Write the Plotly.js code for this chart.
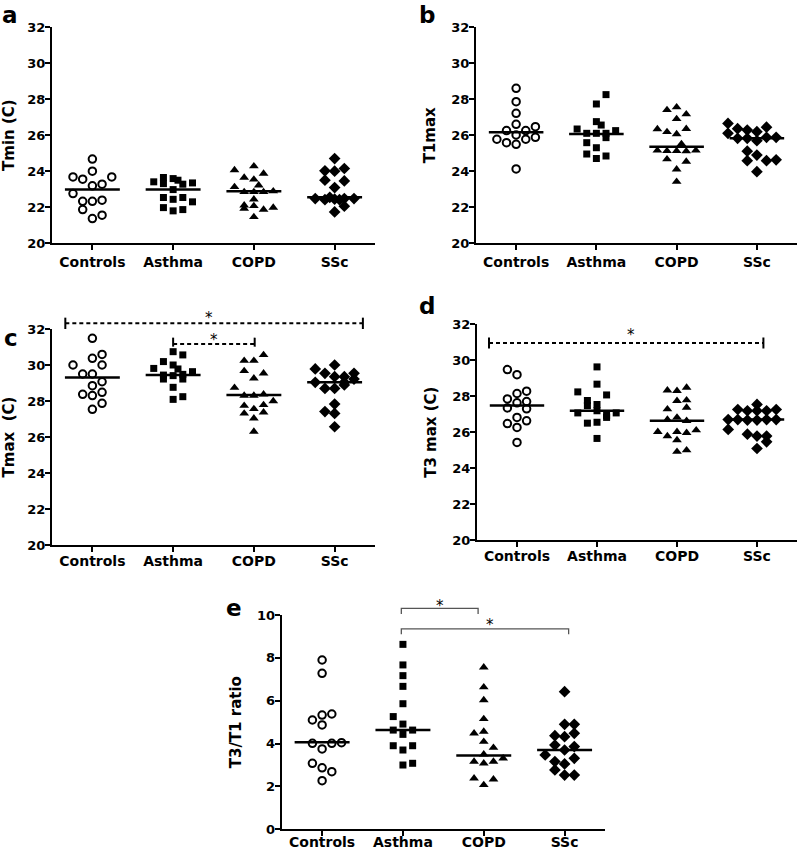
<!DOCTYPE html>
<html><head><meta charset="utf-8">
<script src="https://cdn.plot.ly/plotly-3.0.1.min.js"></script>
<style>html,body{margin:0;padding:0;background:#fff}#chart{width:800px;height:851px}</style>
</head><body><div id="chart"></div>
<script>
// ---------------- DATA ----------------
const categories = ['Controls', 'Asthma', 'COPD', 'SSc'];
const panelLetters = ['a', 'b', 'c', 'd', 'e'];
const yTitles = ['Tmin (C)', 'T1max', 'Tmax  (C)', 'T3 max (C)', 'T3/T1 ratio'];

// Panel a: Tmin (C)
const a_controls = [24.67, 24.0, 23.68, 23.56, 23.68, 23.19, 23.28, 22.76, 22.33, 22.33, 22.39, 21.87, 21.37, 21.56];
const a_asthma   = [23.41, 23.65, 23.31, 23.59, 23.5, 23.28, 23.35, 22.98, 22.54, 22.44, 22.54, 22.30, 21.98, 21.80, 21.87];
const a_copd     = [24.06, 24.28, 23.65, 23.87, 23.54, 23.13, 23.22, 22.85, 22.85, 22.85, 22.89, 22.44, 22.11, 21.93, 22.07, 21.87, 21.98, 21.46];
const a_ssc      = [24.7, 24.02, 24.0, 24.15, 23.5, 23.46, 23.09, 22.48, 22.42, 22.55, 22.45, 22.42, 22.48, 22.48, 22.06, 21.74];
const a_medians  = [22.98, 22.98, 22.89, 22.56];

// Panel b: T1max
const b_controls = [28.61, 27.87, 27.22, 26.61, 26.26, 26.26, 26.48, 26.02, 25.78, 25.59, 25.5, 25.78, 25.89, 24.13];
const b_asthma   = [28.26, 27.74, 26.76, 26.57, 26.35, 26.11, 26.11, 26.11, 26.26, 25.59, 25.87, 25.31, 24.96, 24.85, 24.71];
const b_copd     = [27.41, 27.56, 27.17, 26.91, 26.35, 26.19, 26.07, 26.36, 25.52, 25.16, 25.13, 25.13, 25.12, 25.16, 24.67, 24.54, 24.11, 23.42];
const b_ssc      = [26.66, 26.37, 26.29, 26.2, 26.45, 26.11, 25.83, 25.83, 25.7, 25.89, 25.89, 25.12, 24.9, 24.59, 24.59, 24.64, 23.98];
const b_medians  = [26.17, 26.07, 25.37, 25.83];

// Panel c: Tmax (C)
const c_controls = [31.48, 30.37, 30.59, 30.0, 30.0, 29.5, 29.5, 29.07, 28.85, 28.37, 28.3, 28.48, 27.87, 27.54];
const c_asthma   = [30.74, 30.56, 30.19, 30.0, 29.78, 29.81, 29.63, 29.44, 29.41, 29.48, 29.22, 29.22, 28.76, 28.09, 28.24];
const c_copd     = [30.56, 30.24, 30.24, 29.67, 29.54, 29.26, 28.74, 28.3, 28.3, 28.37, 28.0, 27.74, 27.56, 27.78, 27.31, 27.37, 27.04, 26.3];
const c_ssc      = [30.0, 29.78, 29.54, 29.35, 29.35, 29.54, 29.04, 29.22, 29.04, 28.7, 28.7, 28.89, 27.83, 27.41, 27.31, 26.57];
const c_medians  = [29.3, 29.44, 28.33, 29.04];

// Panel d: T3 max (C)
const d_controls = [29.48, 29.2, 28.15, 28.28, 27.7, 27.85, 27.63, 27.35, 27.3, 26.82, 26.63, 26.48, 26.26, 25.43];
const d_asthma   = [29.63, 28.67, 28.24, 28.07, 27.76, 27.48, 27.54, 27.07, 27.19, 26.93, 26.82, 27.07, 26.5, 26.55, 25.65];
const d_copd     = [28.33, 28.3, 28.48, 27.74, 27.78, 27.37, 27.28, 26.7, 26.82, 26.63, 26.02, 25.78, 26.02, 25.96, 26.11, 25.56, 24.91, 25.0];
const d_ssc      = [27.54, 27.26, 27.19, 27.19, 27.19, 27.26, 26.7, 26.7, 26.67, 26.67, 26.7, 26.7, 26.15, 25.89, 25.78, 25.78, 25.46, 25.09];
const d_medians  = [27.48, 27.19, 26.63, 26.7];

// Panel e: T3/T1 ratio
const e_controls = [7.9, 7.28, 5.1, 5.33, 5.38, 4.87, 4.01, 4.01, 4.04, 3.75, 3.08, 2.87, 2.69, 2.27];
const e_asthma   = [8.63, 7.67, 7.17, 6.67, 5.86, 5.26, 4.91, 4.63, 4.63, 4.43, 3.9, 3.9, 3.7, 3.0, 3.08];
const e_copd     = [7.56, 6.63, 6.03, 5.15, 4.48, 4.56, 4.09, 3.81, 3.5, 3.16, 3.08, 3.16, 3.31, 2.38, 2.33, 2.07];
const e_ssc      = [6.42, 4.9, 4.9, 4.37, 4.32, 4.48, 3.93, 3.86, 3.7, 3.47, 3.31, 3.16, 3.05, 2.77, 2.53, 2.53];
const e_medians  = [4.06, 4.63, 3.44, 3.7];

// ---------------- LAYOUT HELPERS (horizontal scatter columns, in column steps) ----------------
const a_dx = [
  [0, 0, -2, -1, 2, 0, 1, -2, -1, 0, 1, -1, 0, 1],
  [-2, -1, -1, 0, 0.5, 1, 2, 0, -1, 0, 1, 2, -1, 0, 1],
  [-2, 0, -1, 1, 0, -2, 0.5, -1, 0, 1, 2, 0, -1, -1, 0, 1, 2, 0],
  [0, -1, 0, 1, -1, 1, 0, -2, -1, -0.5, 0, 0.5, 1, 2, 1, 0]
];
const b_dx = [
  [0, 0, 0, 0, -1, 1, 2, 0, -2, -1, 0, 1, 2, 0],
  [1, 0, 0, 0.5, -2, -1, 0, 1, 2, -1, 1, 0, -1, 1, 0],
  [-1, 0, 1, 0, -2, -1, 0, 1, 0.5, -2, -1, 0, 1, 2, -1, 1, 0, 0],
  [-3, -2, -1, 0, 1, -3, -2, -1, 0, 1, 2, -1, 0, -1, 1, 2, 0]
];
const c_dx = [
  [0, 0, 1, -2, 1, -1, 0, 1, 0, -1, 0, 1, 1, 0],
  [0, 1, -1, 0, 0.5, -2, 2, -1, 0, 1, -1, 1, 0, 0, 1],
  [1, -1, 0, -1, 1, 0, -2, -1, 0, 1, 2, -1, 0, 1, -1, 1, 0, 0],
  [0, -2, -1, 0, 1, 2, -2, 2, 1, -1, 0, 1, 0, -1, 0, 0]
];
const d_dx = [
  [-1, 0, 0, 1, 1, -1, 0, -1, 1, 0, 1, -1, 0, 0],
  [0, 0, -2, 1, -1, -1, 0, -2, 0, 1, 1, 2, -1, 0, 0],
  [-1, 0, 1, 0, 1, 1, -1, -1, 0, 1, -2, -1, 0, 1, 2, 0, 0, 1],
  [0, -2, -1, 0, 1, 2, -3, -2, -1, 0, 1, 2, -3, -1, 0, 1, 1, 0]
];
const e_dx = [
  [0, 0, -1, 0, 1, 0, -1, 1, 2, 0, -1, 0, 1, 0],
  [0, 0, 0, 0, 0, -1, 0, -1, 1, 0, -1, 1, 0, 0, 1],
  [0, 0, 0, 0, -1, 0, 0, 1, 0, -1, 0, 1, 2, -1, 1, 0],
  [0, 0, 1, -1, 0, 1, -1, 1, 0, -2, 1, -1, 0, -1, 0, 1]
];

const panels = [
  {groups: [a_controls, a_asthma, a_copd, a_ssc], dx: a_dx, med: a_medians},
  {groups: [b_controls, b_asthma, b_copd, b_ssc], dx: b_dx, med: b_medians},
  {groups: [c_controls, c_asthma, c_copd, c_ssc], dx: c_dx, med: c_medians},
  {groups: [d_controls, d_asthma, d_copd, d_ssc], dx: d_dx, med: d_medians},
  {groups: [e_controls, e_asthma, e_copd, e_ssc], dx: e_dx, med: e_medians}
];

// ---------------- GEOMETRY (pixels) ----------------
const W = 800, H = 851;
const STEP = 0.12, HALF = 0.34;
const boxes = [
  {x0: 52,    x1: 375, yt: 27,    yb: 243.3, range: [20, 32], xstand: 0},
  {x0: 476,   x1: 797, yt: 27.3,  yb: 243.3, range: [20, 32], xstand: 0},
  {x0: 52,    x1: 375, yt: 329,   yb: 545,   range: [20, 32], xstand: -3},
  {x0: 477,   x1: 797, yt: 324.3, yb: 540,   range: [20, 32], xstand: -3},
  {x0: 281.7, x1: 605, yt: 615,   yb: 829.3, range: [0, 10],  xstand: -6}
];
const px = v => v / W, py = v => 1 - v / H;

const symbols = ['circle-open', 'square', 'triangle-up', 'diamond'];
const sizes = [7.5, 7, 8.5, 9];
const FONT = 'DejaVu Sans';

const traces = [];
const layout = {
  width: W, height: H, margin: {l: 0, r: 0, t: 0, b: 0},
  paper_bgcolor: '#fff', plot_bgcolor: 'rgba(0,0,0,0)', showlegend: false,
  font: {family: FONT, color: '#000'},
  annotations: [], shapes: []
};

panels.forEach((p, k) => {
  const s = k === 0 ? '' : String(k + 1);
  const b = boxes[k];
  p.groups.forEach((vals, g) => {
    traces.push({
      type: 'scatter', mode: 'markers',
      x: vals.map((v, i) => g + p.dx[g][i] * STEP), y: vals,
      xaxis: 'x' + s, yaxis: 'y' + s, cliponaxis: false, hoverinfo: 'skip',
      marker: {symbol: symbols[g], size: sizes[g], color: '#000',
               line: {color: '#000', width: g === 0 ? 2 : 0}}
    });
    traces.push({
      type: 'scatter', mode: 'lines', x: [g - HALF, g + HALF], y: [p.med[g], p.med[g]],
      xaxis: 'x' + s, yaxis: 'y' + s, hoverinfo: 'skip', line: {color: '#000', width: 2.5}
    });
  });
  layout['xaxis' + s] = {
    domain: [px(b.x0), px(b.x1)], anchor: 'y' + s, range: [-0.5, 3.5],
    tickvals: [0, 1, 2, 3], ticktext: categories,
    showline: true, linecolor: '#000', linewidth: 2, ticks: 'outside', ticklen: 5,
    tickwidth: 2, tickcolor: '#000', showgrid: false, zeroline: false, ticklabelstandoff: b.xstand,
    tickfont: {family: FONT, size: 14, weight: 'bold', color: '#000'}
  };
  layout['yaxis' + s] = {
    domain: [py(b.yb), py(b.yt)], anchor: 'x' + s, range: b.range, dtick: 2, tick0: 0,
    showline: true, linecolor: '#000', linewidth: 2, ticks: 'outside', ticklen: 5,
    tickwidth: 2, tickcolor: '#000', showgrid: false, zeroline: false, ticklabelstandoff: -3,
    tickfont: {family: FONT, size: 13, weight: 'bold', color: '#000'},
    title: {text: yTitles[k], font: {family: FONT, size: 15, weight: 'bold', color: '#000'}}
  };
});

// Invisible helper axes sharing the scale of panels c and e, reaching above them (for significance brackets)
function helperAxis(k, name, topPx) {
  const b = boxes[k];
  const perPx = (b.range[1] - b.range[0]) / (b.yb - b.yt);
  layout[name] = {
    domain: [py(b.yb), py(topPx)], anchor: 'x' + (k + 1),
    range: [b.range[0], b.range[0] + (b.yb - topPx) * perPx], visible: false, fixedrange: true
  };
}
helperAxis(2, 'yaxis6', 300);
helperAxis(4, 'yaxis7', 590);

// Significance brackets
const c_sig = [
  {from: -0.335, to: 3.35, y: 32.32, lo: 32.0, hi: 32.63, sx: 1.45, sy: 32.61},
  {from: 1.0, to: 2.01, y: 31.17, lo: 31.02, hi: 31.52, sx: 1.5, sy: 31.41}
];
const d_sig = [
  {from: -0.35, to: 3.08, y: 30.96, lo: 30.65, hi: 31.26, sx: 1.42, sy: 31.39}
];
const e_sig = [
  {from: 0.98, to: 1.93, y: 10.31, lo: 10.05, sx: 1.46, sy: 10.43},
  {from: 0.98, to: 3.05, y: 9.35, lo: 9.1, sx: 2.08, sy: 9.55}
];

function dashedSig(list, xa, ya) {
  list.forEach(sg => {
    traces.push({type: 'scatter', mode: 'lines', x: [sg.from, sg.to], y: [sg.y, sg.y],
      xaxis: xa, yaxis: ya, hoverinfo: 'skip', line: {color: '#000', width: 2, dash: '4px,3px'}});
    [sg.from, sg.to].forEach(xx => traces.push({type: 'scatter', mode: 'lines',
      x: [xx, xx], y: [sg.lo, sg.hi], xaxis: xa, yaxis: ya, hoverinfo: 'skip',
      line: {color: '#000', width: 2}}));
    layout.annotations.push({xref: xa, yref: ya, x: sg.sx, y: sg.sy, text: '*', showarrow: false,
      font: {family: FONT, size: 15, color: '#000'}});
  });
}
dashedSig(c_sig, 'x3', 'y6');
dashedSig(d_sig, 'x4', 'y4');
e_sig.forEach(sg => {
  traces.push({type: 'scatter', mode: 'lines', x: [sg.from, sg.from, sg.to, sg.to],
    y: [sg.lo, sg.y, sg.y, sg.lo], xaxis: 'x5', yaxis: 'y7', hoverinfo: 'skip',
    line: {color: '#555', width: 1.3}});
  layout.annotations.push({xref: 'x5', yref: 'y7', x: sg.sx, y: sg.sy, text: '*', showarrow: false,
    font: {family: FONT, size: 15, color: '#000'}});
});

// Panel letters
const letterPos = [[0, 15], [417, 15], [2, 338], [417, 306], [224, 608]];
panelLetters.forEach((t, i) => layout.annotations.push({
  xref: 'paper', yref: 'paper', x: px(letterPos[i][0]), y: py(letterPos[i][1]),
  xanchor: 'left', yanchor: 'middle', text: t, showarrow: false,
  font: {family: FONT, size: 23, weight: 'bold', color: '#000'}
}));

Plotly.newPlot('chart', traces, layout, {staticPlot: true, displayModeBar: false});
</script>
</body></html>
